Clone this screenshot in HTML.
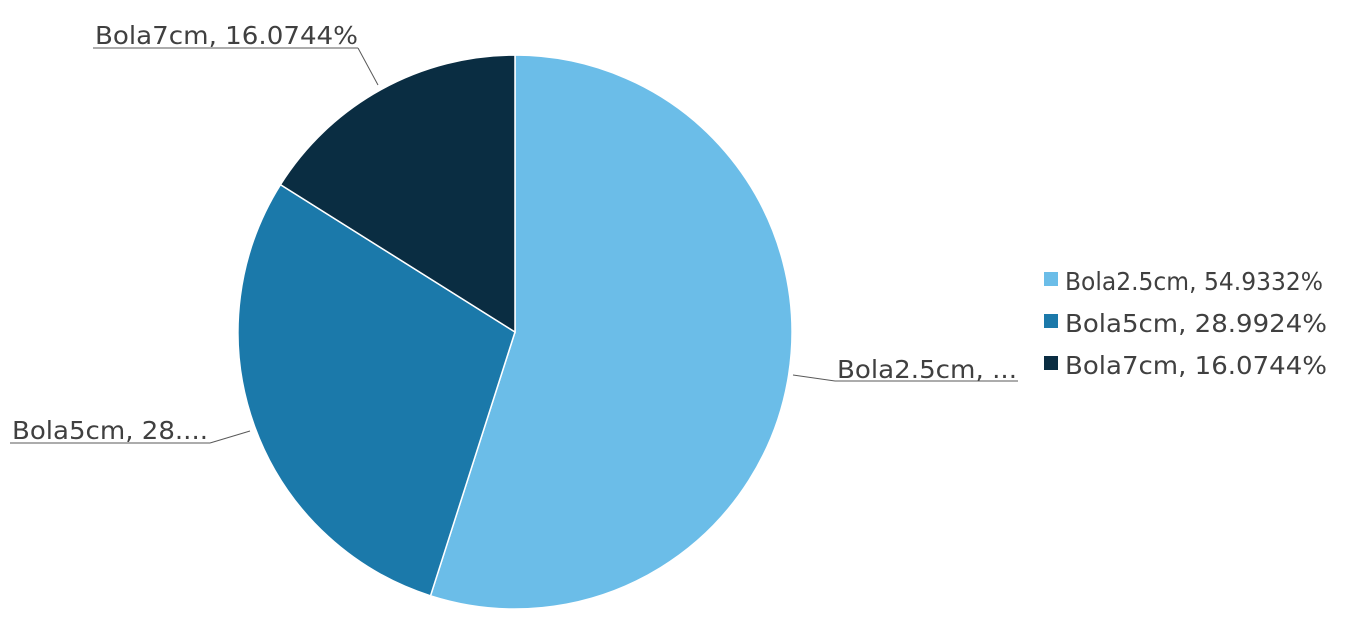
<!DOCTYPE html>
<html><head><meta charset="utf-8"><style>
body{margin:0;background:#fff;}
svg text{font-family:"DejaVu Sans","Liberation Sans",sans-serif;font-size:25px;fill:#404040;}
</style></head><body>
<svg width="1358" height="619">
<g id="slices"></g>
<g id="labels">
<line x1="793" y1="375" x2="835" y2="381" stroke="#595959"/>
<line x1="835" y1="381" x2="1018" y2="381" stroke="#595959"/>
<text x="837" y="378" textLength="180" lengthAdjust="spacingAndGlyphs">Bola2.5cm, ...</text>
<line x1="250" y1="431" x2="210" y2="443" stroke="#595959"/>
<line x1="10" y1="443" x2="210" y2="443" stroke="#595959"/>
<text x="12" y="439" textLength="196" lengthAdjust="spacingAndGlyphs">Bola5cm, 28....</text>
<line x1="378" y1="85" x2="358" y2="48" stroke="#595959"/>
<line x1="93" y1="48" x2="358" y2="48" stroke="#595959"/>
<text x="95" y="44" textLength="263" lengthAdjust="spacingAndGlyphs">Bola7cm, 16.0744%</text>
</g>
<g id="legend"></g>
</svg>
<script>
const categories=["Bola2.5cm","Bola5cm","Bola7cm"];
const values=[54.9332,28.9924,16.0744];
const colors=["#6BBDE8","#1B79AA","#0A2D42"];
const cx=515,cy=332,r=277;
const ns="http://www.w3.org/2000/svg";
const g=document.getElementById('slices');
const total=values.reduce((a,b)=>a+b,0);
let a0=-Math.PI/2;
values.forEach((v,i)=>{
 const a1=a0+v/total*2*Math.PI;
 const large=(a1-a0)>Math.PI?1:0;
 const p=document.createElementNS(ns,'path');
 p.setAttribute('d',`M${cx},${cy} L${cx+r*Math.cos(a0)},${cy+r*Math.sin(a0)} A${r},${r} 0 ${large} 1 ${cx+r*Math.cos(a1)},${cy+r*Math.sin(a1)} Z`);
 p.setAttribute('fill',colors[i]);p.setAttribute('stroke','#fff');p.setAttribute('stroke-width','1.5');
 
 
 g.appendChild(p);
 a0=a1;
});
const lg=document.getElementById('legend');
categories.forEach((c,i)=>{
 const y=272+i*42;
 const s=document.createElementNS(ns,'rect');
 s.setAttribute('x',1044);s.setAttribute('y',y);s.setAttribute('width',14);s.setAttribute('height',14);s.setAttribute('fill',colors[i]);
 
 
 lg.appendChild(s);
 const t=document.createElementNS(ns,'text');
 t.setAttribute('x',1065);t.setAttribute('y',y+18);
 t.setAttribute('textLength',i===0?258:262);
 t.setAttribute('lengthAdjust','spacingAndGlyphs');
 t.textContent=c+', '+values[i]+'%';
 
 
 lg.appendChild(t);
});
</script>
</body></html>
